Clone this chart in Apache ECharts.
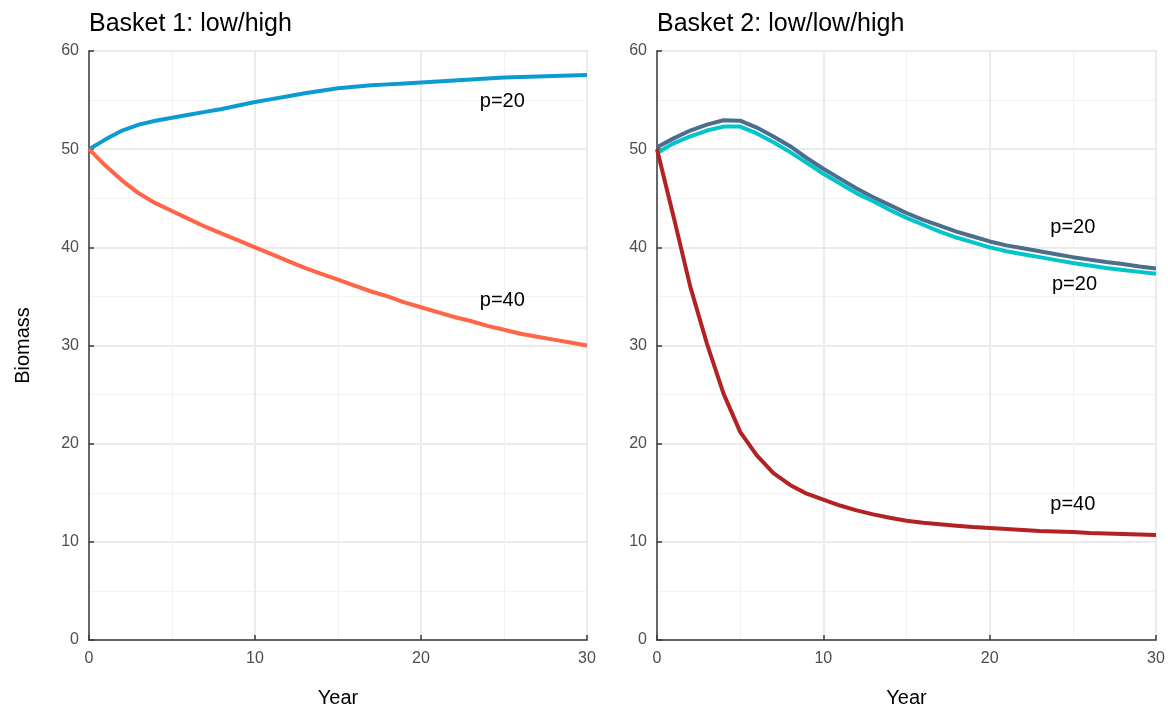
<!DOCTYPE html>
<html>
<head>
<meta charset="utf-8">
<script src="https://cdn.jsdelivr.net/npm/echarts@6/dist/echarts.min.js"></script>
<style>
html,body{margin:0;padding:0;background:#fff;}
#chart{width:1168px;height:711px;}
</style>
</head>
<body>
<div id="chart"></div>
<script>
const years = Array.from({length: 31}, (_, i) => i);
const basket1P20 = [50, 51.0, 51.9, 52.5, 52.9, 53.2, 53.5, 53.8, 54.1, 54.45, 54.8, 55.1, 55.4, 55.7, 55.95, 56.2, 56.35, 56.5, 56.6, 56.7, 56.8, 56.9, 57.0, 57.1, 57.2, 57.3, 57.35, 57.4, 57.45, 57.5, 57.55];
const basket1P40 = [50, 48.3, 46.8, 45.5, 44.5, 43.7, 42.9, 42.1, 41.4, 40.7, 40.0, 39.3, 38.6, 37.9, 37.3, 36.7, 36.1, 35.5, 35.0, 34.4, 33.9, 33.4, 32.9, 32.5, 32.0, 31.6, 31.2, 30.9, 30.6, 30.3, 30.0];
const basket2P20a = [50.2, 51.1, 51.9, 52.5, 52.95, 52.9, 52.2, 51.3, 50.3, 49.1, 48.0, 47.0, 46.0, 45.1, 44.3, 43.5, 42.8, 42.2, 41.6, 41.1, 40.6, 40.2, 39.9, 39.6, 39.3, 39.0, 38.75, 38.5, 38.3, 38.05, 37.85];
const basket2P20b = [49.6, 50.6, 51.3, 51.9, 52.3, 52.3, 51.6, 50.7, 49.7, 48.6, 47.5, 46.5, 45.5, 44.7, 43.8, 43.0, 42.3, 41.6, 41.0, 40.5, 40.0, 39.6, 39.3, 39.0, 38.7, 38.4, 38.15, 37.9, 37.7, 37.5, 37.3];
const basket2P40 = [50, 43.1, 36.0, 30.2, 25.1, 21.2, 18.8, 17.0, 15.8, 14.9, 14.3, 13.7, 13.2, 12.8, 12.45, 12.15, 11.95, 11.8, 11.65, 11.5, 11.4, 11.3, 11.2, 11.1, 11.05, 11.0, 10.9, 10.85, 10.8, 10.75, 10.7];
const panelTitles = ['Basket 1: low/high', 'Basket 2: low/low/high'];
const xTicks = [0, 10, 20, 30];
const yTicks = [0, 10, 20, 30, 40, 50, 60];
// label anchors in data units: [year, biomass, text]
const labels1 = [[24.9, 54.9, 'p=20'], [24.9, 34.6, 'p=40']];
const labels2 = [[25.0, 42.0, 'p=20'], [25.1, 36.2, 'p=20'], [25.0, 13.85, 'p=40']];

const FONT = '"Liberation Sans", Arial, Helvetica, sans-serif';
const pair = arr => years.map((y, i) => [y, arr[i]]);

function xAxisFor(idx) {
  return {
    type: 'value', gridIndex: idx, min: xTicks[0], max: xTicks[xTicks.length - 1], interval: 10,
    name: 'Year', nameLocation: 'middle', nameGap: 48,
    nameTextStyle: {fontFamily: FONT, fontSize: 20, color: '#000'},
    axisLine: {show: true, onZero: false, lineStyle: {color: '#3a3a3a', width: 1.5}},
    axisTick: {show: true, inside: true, length: 5, lineStyle: {color: '#3a3a3a', width: 1.5}},
    axisLabel: {fontFamily: FONT, fontSize: 16, color: '#4d4d4d', margin: 11},
    splitLine: {show: true, lineStyle: {color: '#ebebeb', width: 2}},
    minorTick: {show: false, splitNumber: 2},
    minorSplitLine: {show: true, lineStyle: {color: '#f2f2f2', width: 1}}
  };
}
function yAxisFor(idx, showName) {
  return {
    type: 'value', gridIndex: idx, min: yTicks[0], max: yTicks[yTicks.length - 1], interval: 10,
    name: showName ? 'Biomass' : '', nameLocation: 'middle', nameGap: 56, nameRotate: 90,
    nameTextStyle: {fontFamily: FONT, fontSize: 20, color: '#000'},
    axisLine: {show: true, onZero: false, lineStyle: {color: '#3a3a3a', width: 1.5}},
    axisTick: {show: true, inside: true, length: 5, lineStyle: {color: '#3a3a3a', width: 1.5}},
    axisLabel: {fontFamily: FONT, fontSize: 16, color: '#4d4d4d', margin: 10},
    splitLine: {show: true, lineStyle: {color: '#ebebeb', width: 2}},
    minorTick: {show: false, splitNumber: 2},
    minorSplitLine: {show: true, lineStyle: {color: '#f2f2f2', width: 1}}
  };
}
function lineSeries(idx, data, color, labelsArr) {
  const s = {
    type: 'line', xAxisIndex: idx, yAxisIndex: idx, data: pair(data),
    showSymbol: false, symbol: 'none', smooth: false,
    lineStyle: {color: color, width: 4}, itemStyle: {color: color},
    silent: true, animation: false
  };
  if (labelsArr && labelsArr.length) {
    s.markPoint = {
      symbol: 'circle', symbolSize: 0, silent: true, animation: false,
      label: {show: true, position: 'inside', fontFamily: FONT, fontSize: 20, color: '#000'},
      data: labelsArr.map(l => ({coord: [l[0], l[1]], value: l[2], label: {formatter: l[2]}}))
    };
  }
  return s;
}

const chart = echarts.init(document.getElementById('chart'), null, {renderer: 'canvas'});
chart.setOption({
  backgroundColor: '#fff',
  animation: false,
  title: [
    {text: panelTitles[0], left: 84, top: 7, textStyle: {fontFamily: FONT, fontSize: 25, fontWeight: 'normal', color: '#000'}},
    {text: panelTitles[1], left: 652, top: 7, textStyle: {fontFamily: FONT, fontSize: 25, fontWeight: 'normal', color: '#000'}}
  ],
  grid: [
    {left: 89, right: 581, top: 51, bottom: 71, outerBoundsMode: 'none', containLabel: false, show: true, borderColor: '#555', borderWidth: 1.2, backgroundColor: 'transparent'},
    {left: 657, right: 12, top: 51, bottom: 71, outerBoundsMode: 'none', containLabel: false, show: true, borderColor: '#555', borderWidth: 1.2, backgroundColor: 'transparent'}
  ],
  xAxis: [xAxisFor(0), xAxisFor(1)],
  yAxis: [yAxisFor(0, true), yAxisFor(1, false)],
  series: [
    lineSeries(0, basket1P20, '#0c9bd0', [labels1[0]]),
    lineSeries(0, basket1P40, '#ff6547', [labels1[1]]),
    lineSeries(1, basket2P20a, '#4d6d8c', [labels2[0]]),
    lineSeries(1, basket2P20b, '#00c6cc', [labels2[1]]),
    lineSeries(1, basket2P40, '#b22222', [labels2[2]])
  ]
});
</script>
</body>
</html>
